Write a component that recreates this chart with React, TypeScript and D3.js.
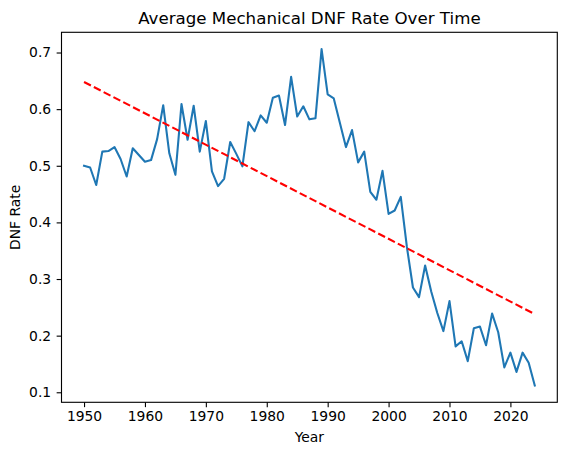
import { useRef, useEffect } from 'react'
import * as d3 from 'd3'

const years = d3.range(1950, 2025)

const dnfRates = [
  0.500, 0.497, 0.466, 0.525, 0.526, 0.533, 0.512, 0.481, 0.531, 0.519,
  0.507, 0.510, 0.547, 0.607, 0.522, 0.484, 0.609, 0.546, 0.606, 0.525,
  0.579, 0.490, 0.464, 0.477, 0.542, 0.521, 0.499, 0.577, 0.561, 0.589,
  0.576, 0.620, 0.624, 0.572, 0.657, 0.587, 0.605, 0.582, 0.584, 0.706,
  0.626, 0.619, 0.576, 0.533, 0.563, 0.506, 0.525, 0.454, 0.440, 0.491,
  0.415, 0.421, 0.445, 0.357, 0.285, 0.268, 0.324, 0.278, 0.240, 0.208,
  0.261, 0.181, 0.190, 0.155, 0.213, 0.216, 0.183, 0.239, 0.206, 0.144,
  0.170, 0.136, 0.170, 0.152, 0.112,
]

// trend line end points
const trendYears = [1950, 2024]
const trendRates = [0.648, 0.238]

const xTicks = [1950, 1960, 1970, 1980, 1990, 2000, 2010, 2020]
const yTicks = [0.1, 0.2, 0.3, 0.4, 0.5, 0.6, 0.7]

const FONT = '"DejaVu Sans", sans-serif'

export default function App() {
  const svgRef = useRef<SVGSVGElement>(null)

  useEffect(() => {
    if (!svgRef.current) return
    const svg = d3.select(svgRef.current)
    svg.selectAll('*').remove()

    const width = 567
    const height = 455
    const margin = { top: 32.3, right: 9.7, bottom: 52.7, left: 61.5 }

    // matplotlib-style 5% data margins
    const xExt = d3.extent(years) as [number, number]
    const xPad = (xExt[1] - xExt[0]) * 0.05
    const x = d3.scaleLinear()
      .domain([xExt[0] - xPad, xExt[1] + xPad])
      .range([margin.left, width - margin.right])

    const yExt = d3.extent([...dnfRates, ...trendRates]) as [number, number]
    const yPad = (yExt[1] - yExt[0]) * 0.05
    const y = d3.scaleLinear()
      .domain([yExt[0] - yPad, yExt[1] + yPad])
      .range([height - margin.bottom, margin.top])

    svg.append('rect').attr('width', width).attr('height', height).attr('fill', '#fff')

    // Axes
    const xAxis = svg.append('g')
      .attr('transform', `translate(0,${height - margin.bottom})`)
      .call(d3.axisBottom(x).tickValues(xTicks).tickFormat(d3.format('d'))
        .tickSize(4.86).tickPadding(4.2))
    xAxis.select('.domain').remove()
    xAxis.selectAll('line').attr('stroke', '#000').attr('stroke-width', 1.11)
    xAxis.selectAll('text')
      .style('font-family', FONT).style('font-size', '13.89px').attr('fill', '#000')

    const yAxis = svg.append('g')
      .attr('transform', `translate(${margin.left},0)`)
      .call(d3.axisLeft(y).tickValues(yTicks).tickFormat(d3.format('.1f'))
        .tickSize(4.86).tickPadding(5.5))
    yAxis.select('.domain').remove()
    yAxis.selectAll('line').attr('stroke', '#000').attr('stroke-width', 1.11)
    yAxis.selectAll('text')
      .style('font-family', FONT).style('font-size', '13.89px').attr('fill', '#000')

    // Data line
    const line = d3.line<number>()
      .x((_, i) => x(years[i]))
      .y(d => y(d))

    svg.append('path')
      .datum(dnfRates)
      .attr('d', line)
      .attr('fill', 'none')
      .attr('stroke', '#1f77b4')
      .attr('stroke-width', 2.08)
      .attr('stroke-linejoin', 'round')
      .attr('stroke-linecap', 'square')

    const trendLine = d3.line<number>()
      .x((_, i) => x(trendYears[i]))
      .y(d => y(d))

    svg.append('path')
      .datum(trendRates)
      .attr('d', trendLine)
      .attr('fill', 'none')
      .attr('stroke', '#ff0000')
      .attr('stroke-width', 2.08)
      .attr('stroke-dasharray', '7.7,3.33')

    // Frame
    svg.append('rect')
      .attr('x', margin.left).attr('y', margin.top)
      .attr('width', width - margin.left - margin.right)
      .attr('height', height - margin.top - margin.bottom)
      .attr('fill', 'none').attr('stroke', '#000').attr('stroke-width', 1.11)

    // Labels
    svg.append('text')
      .attr('x', (margin.left + width - margin.right) / 2).attr('y', 24)
      .attr('text-anchor', 'middle')
      .style('font-family', FONT).style('font-size', '16.67px')
      .text('Average Mechanical DNF Rate Over Time')

    svg.append('text')
      .attr('x', (margin.left + width - margin.right) / 2).attr('y', 441.7)
      .attr('text-anchor', 'middle')
      .style('font-family', FONT).style('font-size', '13.89px')
      .text('Year')

    svg.append('text')
      .attr('transform', `translate(20.3,${(margin.top + height - margin.bottom) / 2}) rotate(-90)`)
      .attr('text-anchor', 'middle')
      .style('font-family', FONT).style('font-size', '13.89px')
      .text('DNF Rate')
  }, [])

  return (
    <svg
      ref={svgRef}
      width={567}
      height={455}
      style={{ position: 'absolute', left: 0, top: 0 }}
    />
  )
}
